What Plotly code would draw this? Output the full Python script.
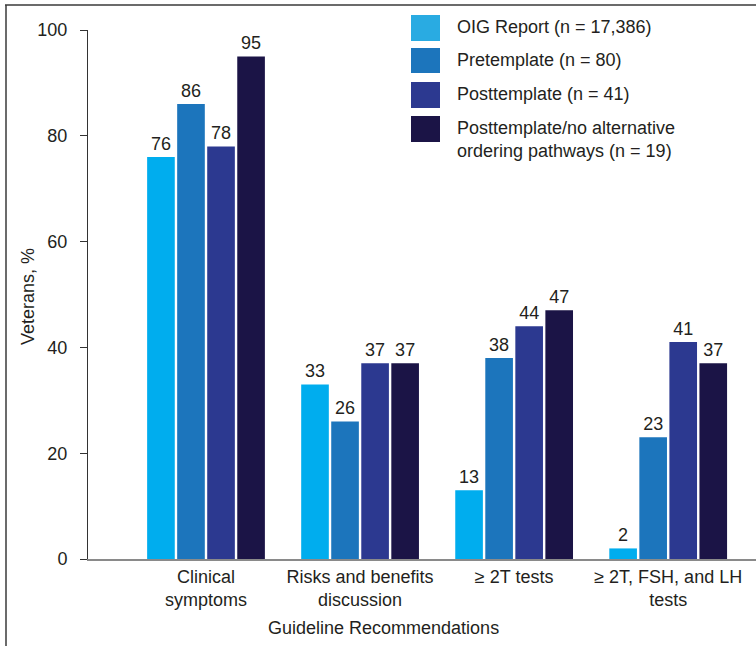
import plotly.graph_objects as go

# Guideline recommendation categories (x axis)
categories = [
    "Clinical<br>symptoms",
    "Risks and benefits<br>discussion",
    "≥ 2T tests",
    "≥ 2T, FSH, and LH<br>tests",
]

# Series: percentage of veterans meeting each recommendation
series_names = [
    "OIG Report (n = 17,386)",
    "Pretemplate (n = 80)",
    "Posttemplate (n = 41)",
    "Posttemplate/no alternative<br>ordering pathways (n = 19)",
]
oig_report = [76, 33, 13, 2]
pretemplate = [86, 26, 38, 23]
posttemplate = [78, 37, 44, 41]
posttemplate_no_alt = [95, 37, 47, 37]

y_ticks = [0, 20, 40, 60, 80, 100]

bar_colors = ["#00ADEE", "#1C75BC", "#2C3990", "#1B1446"]
legend_colors = ["#29ABE2", "#1C75BC", "#2C3990", "#1B1446"]

FONT = "Liberation Sans, Arial, Helvetica, sans-serif"
TEXT = "#231F20"

W, H = 756, 646
L, R, T, B = 88, 0, 30, 87
PW, PH = W - L - R, H - T - B


def px(x):
    """Pixel x -> paper x."""
    return (x - L) / PW


def py(y):
    """Pixel y -> paper y."""
    return (H - B - y) / PH


fig = go.Figure()
values = [oig_report, pretemplate, posttemplate, posttemplate_no_alt]
for name, vals, col in zip(series_names, values, bar_colors):
    fig.add_trace(go.Bar(
        x=list(range(len(categories))),
        y=vals,
        name=name,
        marker=dict(color=col, line=dict(width=0)),
        text=[str(v) for v in vals],
        textposition="outside",
        textfont=dict(family=FONT, size=18, color=TEXT),
        cliponaxis=False,
        showlegend=False,
    ))

shapes = []
annotations = []

# Legend drawn as large swatches with labels
legend_rows = [(15, 41), (48, 73), (82, 108), (116, 142)]
for (top, bot), col, name in zip(legend_rows, legend_colors, series_names):
    shapes.append(dict(
        type="rect", xref="paper", yref="paper",
        x0=px(411), x1=px(440), y0=py(bot), y1=py(top),
        fillcolor=col, line=dict(width=0), layer="above",
    ))
    annotations.append(dict(
        text=name, xref="paper", yref="paper",
        x=px(455), y=py(top), xanchor="left", yanchor="top",
        align="left", showarrow=False,
        font=dict(family=FONT, size=18, color=TEXT),
    ))

# Axis titles
annotations.append(dict(
    text="Guideline Recommendations", xref="paper", yref="paper",
    x=px(383), y=py(628), xanchor="center", yanchor="middle",
    showarrow=False, font=dict(family=FONT, size=18, color=TEXT),
))
annotations.append(dict(
    text="Veterans, %", xref="paper", yref="paper",
    x=px(28), y=py(297), xanchor="center", yanchor="middle",
    textangle=-90, showarrow=False,
    font=dict(family=FONT, size=18, color=TEXT),
))

# Outer frame lines (top and left)
frame_col = "#3A3A3A"
shapes.append(dict(type="line", xref="paper", yref="paper",
                   x0=px(5), x1=px(756), y0=py(5), y1=py(5),
                   line=dict(color=frame_col, width=1.5)))
shapes.append(dict(type="line", xref="paper", yref="paper",
                   x0=px(6), x1=px(6), y0=py(5), y1=py(646),
                   line=dict(color=frame_col, width=1.5)))

fig.update_layout(
    width=W, height=H,
    margin=dict(l=L, r=R, t=T, b=B),
    paper_bgcolor="white", plot_bgcolor="white",
    barmode="group", bargap=0.22, bargroupgap=0.08,
    font=dict(family=FONT, size=18, color=TEXT),
    shapes=shapes, annotations=annotations,
    xaxis=dict(
        range=[-0.766, 3.57],
        tickmode="array",
        tickvals=list(range(len(categories))),
        ticktext=categories,
        showline=True, linecolor="#8A8A8A", linewidth=2,
        ticks="", showgrid=False, zeroline=False,
        tickfont=dict(family=FONT, size=18, color=TEXT),
        fixedrange=True,
    ),
    yaxis=dict(
        range=[0, 100],
        tickmode="array", tickvals=y_ticks,
        showline=True, linecolor="#333333", linewidth=1,
        ticks="outside", ticklen=7, tickcolor="#333333", tickwidth=1,
        ticklabelstandoff=9,
        showgrid=False, zeroline=False,
        tickfont=dict(family=FONT, size=18, color=TEXT),
        fixedrange=True,
    ),
)

fig.write_html("out.html")
